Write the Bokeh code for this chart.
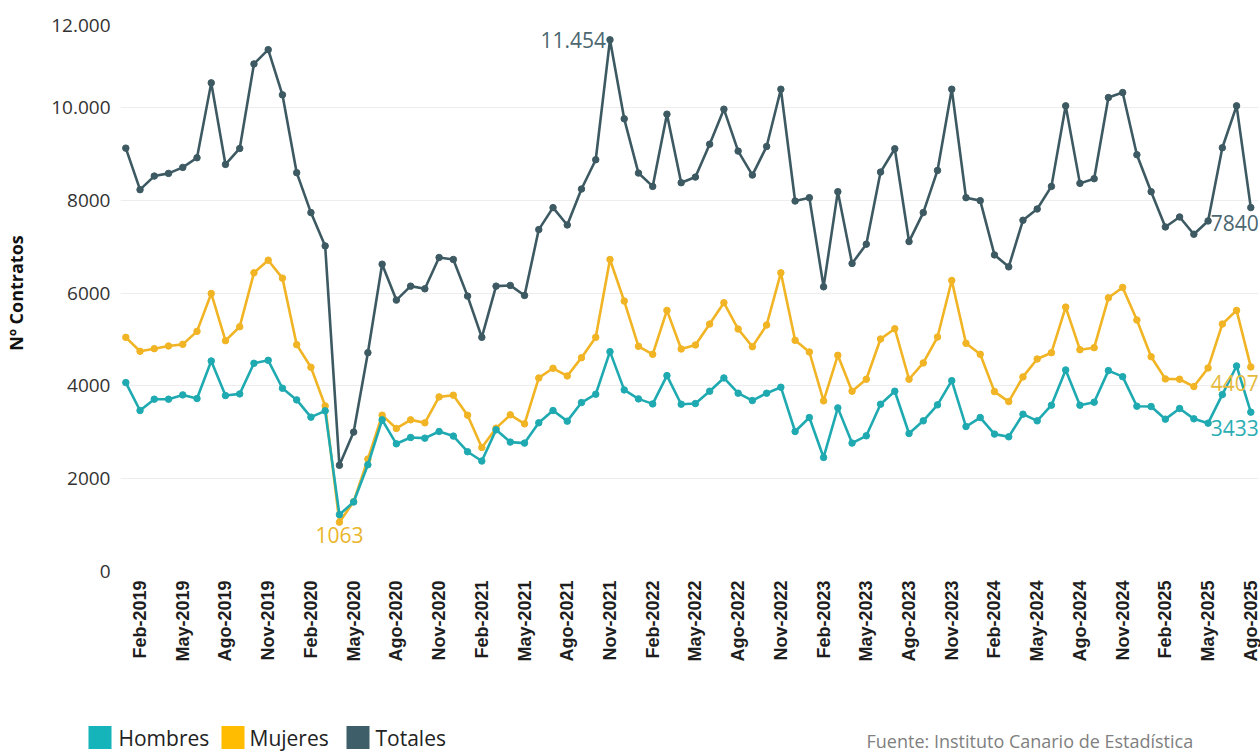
import math
from bokeh.plotting import figure
from bokeh.models import Range1d, FixedTicker, Label, ColumnDataSource
from bokeh.layouts import column
from bokeh.core.properties import value
from bokeh.embed import file_html
from bokeh.resources import INLINE

# ---------------- data ----------------
month_names = ["Ene", "Feb", "Mar", "Abr", "May", "Jun", "Jul", "Ago", "Sep", "Oct", "Nov", "Dic"]
start_year = 2019
n_months = 80  # Ene-2019 .. Ago-2025

hombres = [4070, 3468, 3712, 3712, 3805, 3726, 4536, 3790, 3826, 4486, 4550, 3948,
           3697, 3325, 3461, 1225, 1498, 2300, 3267, 2751, 2887, 2873, 3016, 2917,
           2580, 2380, 3052, 2788, 2766, 3203, 3468, 3239, 3640, 3819, 4736, 3912,
           3719, 3611, 4220, 3604, 3618, 3884, 4170, 3841, 3683, 3841, 3970, 3016,
           3317, 2457, 3525, 2766, 2923, 3604, 3884, 2973, 3246, 3590, 4112, 3123,
           3317, 2960, 2902, 3389, 3246, 3583, 4342, 3583, 3648, 4328, 4198, 3561,
           3554, 3282, 3511, 3289, 3196, 3811, 4428, 3433]
mujeres = [5045, 4744, 4801, 4858, 4894, 5174, 5990, 4973, 5274, 6435, 6707, 6320,
           4887, 4400, 3568, 1063, 1505, 2422, 3368, 3082, 3267, 3203, 3762, 3798,
           3368, 2672, 3088, 3375, 3181, 4170, 4378, 4213, 4607, 5045, 6722, 5826,
           4851, 4679, 5625, 4794, 4880, 5331, 5790, 5224, 4844, 5310, 6435, 4980,
           4729, 3676, 4658, 3884, 4142, 5009, 5230, 4142, 4493, 5052, 6270, 4916,
           4679, 3876, 3661, 4192, 4578, 4714, 5696, 4779, 4822, 5897, 6120, 5417,
           4628, 4149, 4142, 3984, 4385, 5331, 5625, 4407]
totales = [9121, 8226, 8519, 8577, 8706, 8914, 10527, 8770, 9114, 10935, 11242, 10269,
           8592, 7732, 7014, 2288, 3003, 4714, 6621, 5847, 6148, 6090, 6765, 6722,
           5933, 5045, 6148, 6163, 5947, 7366, 7839, 7466, 8240, 8871, 11454, 9753,
           8584, 8297, 9853, 8376, 8498, 9207, 9960, 9057, 8541, 9157, 10390, 7982,
           8054, 6133, 8183, 6636, 7051, 8605, 9108, 7108, 7732, 8641, 10390, 8054,
           7990, 6821, 6563, 7567, 7810, 8297, 10032, 8362, 8463, 10211, 10318, 8979,
           8183, 7423, 7638, 7266, 7552, 9129, 10032, 7840]
y_ticks = [0, 2000, 4000, 6000, 8000, 10000, 12000]
y_tick_labels = ["0", "2000", "4000", "6000", "8000", "10.000", "12.000"]
series_names = ["Hombres", "Mujeres", "Totales"]
source_text = "Fuente: Instituto Canario de Estadística"

# ---------------- styles ----------------
C_H = "#1FAAB1"
C_M = "#F1B424"
C_T = "#3D5A63"
LEG_COLORS = ["#14B4BA", "#FFBC00", "#3E5F69"]
FONT = "Open Sans"

x = list(range(n_months))
month_labels = [f"{month_names[i % 12]}-{start_year + i // 12}" for i in x]
tick_idx = [i for i in x if i % 3 == 1]
X0, X1 = -0.372, 79.54
Y_MAX = 12000
FRAME_H = 558
W = 1260
MAIN_H = 664

p = figure(width=W, height=MAIN_H, output_backend="svg", toolbar_location=None,
           x_range=Range1d(X0, X1), y_range=Range1d(0, Y_MAX),
           min_border_left=120, min_border_right=2, min_border_top=14, min_border_bottom=92)
p.frame_align = False
p.outline_line_color = None
p.background_fill_color = "white"
p.border_fill_color = "white"

p.xgrid.grid_line_color = None
p.ygrid.ticker = FixedTicker(ticks=y_ticks)
p.ygrid.grid_line_color = "#EDEDED"
p.ygrid.grid_line_width = 1

# the top label sits a little below its grid line, as in the reference
top_label_pos = y_ticks[-1] - 11.5 * Y_MAX / FRAME_H
label_ticks = y_ticks[:-1] + [top_label_pos]
p.yaxis.ticker = FixedTicker(ticks=label_ticks)
p.yaxis.major_label_overrides = {t: l for t, l in zip(label_ticks, y_tick_labels)}
p.yaxis.axis_line_color = None
p.yaxis.major_tick_line_color = None
p.yaxis.minor_tick_line_color = None
p.yaxis.major_label_text_font = FONT
p.yaxis.major_label_text_font_size = "19px"
p.yaxis.major_label_text_color = "#333333"
p.yaxis.major_label_standoff = 4
p.yaxis.axis_label = "Nº Contratos"
p.yaxis.axis_label_text_font = FONT
p.yaxis.axis_label_text_font_style = "bold"
p.yaxis.axis_label_text_font_size = "18px"
p.yaxis.axis_label_text_color = "#111111"
p.yaxis.axis_label_standoff = 20

p.xaxis.ticker = FixedTicker(ticks=tick_idx)
p.xaxis.major_label_overrides = {i: month_labels[i] for i in tick_idx}
p.xaxis.major_label_orientation = math.pi / 2
p.xaxis.axis_line_color = None
p.xaxis.major_tick_line_color = None
p.xaxis.minor_tick_line_color = None
p.xaxis.major_label_text_font = "Liberation Sans"
p.xaxis.major_label_text_font_style = "bold"
p.xaxis.major_label_text_font_size = "18px"
p.xaxis.major_label_text_color = "#1E1E1E"
p.xaxis.major_label_standoff = 3

src = ColumnDataSource(dict(x=x, h=hombres, m=mujeres, t=totales))
for col, c in (("t", C_T), ("m", C_M), ("h", C_H)):
    p.line("x", col, source=src, line_color=c, line_width=2.6)
    p.scatter("x", col, source=src, size=6.5, fill_color=c, line_color=c)


def fmt(v):
    return f"{v:,}".replace(",", ".") if v >= 10000 else str(v)


i_max = totales.index(max(totales))
i_min = mujeres.index(min(mujeres))
last = n_months - 1
labels = [
    (i_max, totales[i_max], "#4B6770", "right", "middle", -4, 0),
    (i_min, mujeres[i_min], "#E9B52C", "center", "top", 0, -5),
    (last, totales[last], "#4B6770", "right", "middle", 8, -15),
    (last, mujeres[last], "#E5BA3C", "right", "middle", 8, -16),
    (last, hombres[last], "#2AADB3", "right", "middle", 8, -16),
]
for lx, ly, lc, al, bl, xo, yo in labels:
    p.add_layout(Label(x=lx, y=ly, text=fmt(ly), text_color=lc, text_font=FONT,
                       text_font_size="21px", text_align=al, text_baseline=bl,
                       x_offset=xo, y_offset=yo))

# ---------------- footer: legend swatches + source ----------------
FH = 754 - MAIN_H
f = figure(width=W, height=FH, output_backend="svg", toolbar_location=None,
           x_range=Range1d(0, W), y_range=Range1d(0, FH),
           min_border_left=0, min_border_right=0, min_border_top=0, min_border_bottom=0)
f.frame_align = False
f.axis.visible = False
f.grid.visible = False
f.outline_line_color = None

sq_x = [99.5, 232.5, 357.5]
tx_x = [118, 249, 375]
f.rect(x=sq_x, y=[17] * 3, width=23, height=23, fill_color=LEG_COLORS, line_color=None)
f.text(x=tx_x, y=[17] * 3, text=series_names, text_font=value(FONT),
       text_font_size="21px", text_color="#222222", text_baseline="middle", text_align="left")
f.text(x=[866], y=[14], text=[source_text], text_font=value(FONT), text_font_size="18px",
       text_color="#808080", text_baseline="middle", text_align="left")

layout = column(p, f, spacing=0)
open("out.html", "w").write(file_html(layout, INLINE))
